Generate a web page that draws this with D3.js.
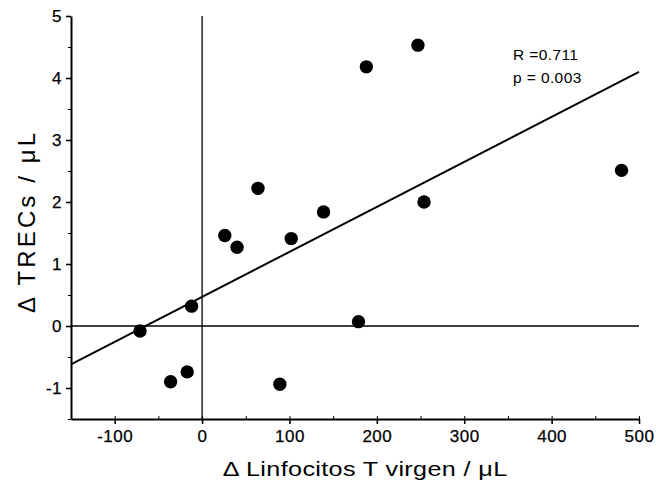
<!DOCTYPE html>
<meta charset="utf-8">
<style>
    body { margin: 0; background: #fff; }
    text { font-family: "Liberation Sans", Arial, sans-serif; fill: #000; }
    .tick text { font-size: 17px; letter-spacing: 0.5px; stroke: #000; stroke-width: 0.25px; }
</style>

<svg width="656" height="483"></svg>

<script src="https://d3js.org/d3.v7.min.js"></script>
<script>

    // data
    var naiveT = [-71, -12, -36, -17, 26, 40, 64, 102, 139, 188, 247, 254, 480, 179, 89];
    var trecs  = [-0.08, 0.32, -0.90, -0.74, 1.46, 1.27, 2.22, 1.41, 1.84, 4.18, 4.53, 2.00, 2.51, 0.07, -0.94];
    var fitX = [-150, 500];
    var fitY = [-0.62, 4.10];
    var xTicks = [-100, 0, 100, 200, 300, 400, 500];
    var yTicks = [-1, 0, 1, 2, 3, 4, 5];
    var stats = ["R =0.711", "p = 0.003"];

    var svg = d3.select("svg");

    var x = d3.scaleLinear().domain([-150, 500]).range([71, 639]);
    var y = d3.scaleLinear().domain([-1.5, 5]).range([419, 16]);

    // zero reference lines
    svg.append("line")
            .attr("x1", x(0)).attr("x2", x(0))
            .attr("y1", y(5)).attr("y2", y(-1.5))
            .attr("stroke", "#000").attr("stroke-width", 1.3);
    svg.append("line")
            .attr("x1", x(-150)).attr("x2", x(500))
            .attr("y1", y(0)).attr("y2", y(0))
            .attr("stroke", "#000").attr("stroke-width", 1.3);

    // minor ticks
    svg.append("g")
            .attr("transform", "translate(0," + y(-1.5) + ")")
            .call(d3.axisBottom(x).tickValues(d3.range(-150, 501, 50)).tickSize(-3).tickFormat(""))
            .call(function (g) { g.select(".domain").remove(); });
    svg.append("g")
            .attr("transform", "translate(" + x(-150) + ",0)")
            .call(d3.axisLeft(y).tickValues(d3.range(-1.5, 5.01, 0.5)).tickSize(3).tickFormat(""))
            .call(function (g) { g.select(".domain").remove(); });

    // main axes
    var fmt = function (d) { return String(d); };
    var xAxis = svg.append("g")
            .attr("transform", "translate(0," + y(-1.5) + ")")
            .call(d3.axisBottom(x).tickValues(xTicks).tickFormat(fmt).tickSize(5).tickSizeOuter(0).tickPadding(6));
    var yAxis = svg.append("g")
            .attr("transform", "translate(" + x(-150) + ",0)")
            .call(d3.axisLeft(y).tickValues(yTicks).tickFormat(fmt).tickSize(5).tickSizeOuter(0).tickPadding(4));

    [xAxis, yAxis].forEach(function (g) {
        g.attr("font-family", null).attr("font-size", null);
        g.select(".domain").attr("stroke-width", 2);
        g.selectAll(".tick line").attr("stroke-width", 1.6);
    });

    // regression line
    svg.append("line")
            .attr("x1", x(fitX[0])).attr("y1", y(fitY[0]))
            .attr("x2", x(fitX[1])).attr("y2", y(fitY[1]))
            .attr("stroke", "#000").attr("stroke-width", 2);

    // points
    svg.append("g")
            .selectAll("circle")
            .data(naiveT)
            .enter().append("circle")
            .attr("cx", function (d) { return x(d); })
            .attr("cy", function (d, i) { return y(trecs[i]); })
            .attr("r", 6.7)
            .attr("fill", "#000");

    // stats
    svg.append("g")
            .selectAll("text")
            .data(stats)
            .enter().append("text")
            .attr("x", 513)
            .attr("y", function (d, i) { return 60 + i * 23; })
            .attr("font-size", 15.5)
            .attr("letter-spacing", 0.4)
            .text(function (d) { return d; });

    // axis titles
    svg.append("text")
            .attr("transform", "translate(365,476) scale(1.2,1)")
            .attr("text-anchor", "middle")
            .attr("font-size", 21)
            .attr("textLength", 237)
            .attr("lengthAdjust", "spacing")
            .text("Δ Linfocitos T virgen / μL");

    svg.append("text")
            .attr("transform", "translate(35,223) rotate(-90)")
            .attr("text-anchor", "middle")
            .attr("font-size", 24)
            .attr("textLength", 180)
            .attr("lengthAdjust", "spacing")
            .text("Δ TRECs / μL");

</script>
